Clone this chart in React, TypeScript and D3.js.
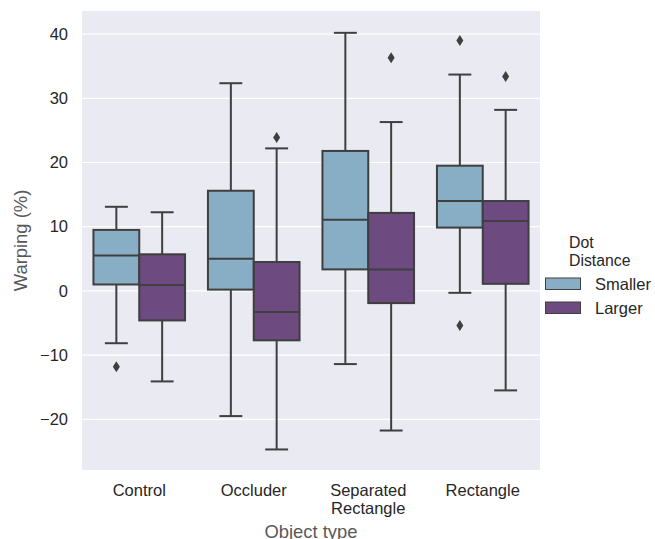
import React from "react";
import * as d3 from "d3";

const categories = ["Control", "Occluder", "Separated\nRectangle", "Rectangle"];
const hues = ["Smaller", "Larger"];
const hueColors = ["#88aec6", "#6d4a7f"];

// [whiskerLow, q1, median, q3, whiskerHigh] per category
const smallerStats = [
  [-8.15, 1.0, 5.5, 9.5, 13.1],
  [-19.5, 0.2, 5.0, 15.6, 32.35],
  [-11.4, 3.35, 11.1, 21.8, 40.2],
  [-0.3, 9.86, 14.0, 19.5, 33.7],
];
const largerStats = [
  [-14.1, -4.6, 0.93, 5.7, 12.25],
  [-24.7, -7.7, -3.3, 4.5, 22.2],
  [-21.75, -1.9, 3.35, 12.15, 26.3],
  [-15.5, 1.1, 10.9, 14.0, 28.2],
];
const smallerOutliers = [[-11.8], [], [], [39.0, -5.4]];
const largerOutliers = [[], [23.9], [36.3], [33.4]];

const yTicks = [-20, -10, 0, 10, 20, 30, 40];

const W = 655;
const H = 539;
const plot = { left: 82, right: 540, top: 11, bottom: 470 };

export default function App() {
  const x = d3.scaleBand<string>().domain(categories).range([plot.left, plot.right]).padding(0);
  const bw = x.bandwidth();
  const hueScale = d3.scaleBand<string>().domain(hues).range([-0.4 * bw, 0.4 * bw]).padding(0);
  const y = d3.scaleLinear().domain([-27.9, 43.6]).range([plot.bottom, plot.top]);
  const stats = [smallerStats, largerStats];
  const outliers = [smallerOutliers, largerOutliers];
  const edge = "#3f3f3f";
  const font = "'Liberation Sans', Arial, sans-serif";
  const boxW = hueScale.bandwidth();
  const diamond = "M0,-5.5L3.5,0L0,5.5L-3.5,0Z";

  return (
    <svg width={W} height={H} style={{ position: "absolute", left: 0, top: 0 }} fontFamily={font}>
      <rect x={0} y={0} width={W} height={H} fill="#ffffff" />
      <rect x={plot.left} y={plot.top} width={plot.right - plot.left} height={plot.bottom - plot.top} fill="#eaeaf2" />
      {yTicks.map((t) => (
        <g key={t}>
          <line x1={plot.left} x2={plot.right} y1={y(t)} y2={y(t)} stroke="#ffffff" strokeWidth={1.2} />
          <text x={68} y={y(t)} dy="0.35em" textAnchor="end" fontSize={16.5} fill="#262626">
            {t < 0 ? "\u2212" + Math.abs(t) : String(t)}
          </text>
        </g>
      ))}
      {categories.map((c, ci) =>
        hues.map((h, hi) => {
          const cx = (x(c) as number) + bw / 2 + (hueScale(h) as number) + boxW / 2;
          const [lo, q1, med, q3, hiW] = stats[hi][ci];
          const x0 = cx - boxW / 2;
          return (
            <g key={c + h}>
              <line x1={cx} x2={cx} y1={y(q3)} y2={y(hiW)} stroke={edge} strokeWidth={2} />
              <line x1={cx} x2={cx} y1={y(q1)} y2={y(lo)} stroke={edge} strokeWidth={2} />
              <line x1={cx - boxW / 4} x2={cx + boxW / 4} y1={y(hiW)} y2={y(hiW)} stroke={edge} strokeWidth={2} />
              <line x1={cx - boxW / 4} x2={cx + boxW / 4} y1={y(lo)} y2={y(lo)} stroke={edge} strokeWidth={2} />
              <rect x={x0} y={y(q3)} width={boxW} height={y(q1) - y(q3)} fill={hueColors[hi]} stroke={edge} strokeWidth={2} />
              <line x1={x0} x2={x0 + boxW} y1={y(med)} y2={y(med)} stroke={edge} strokeWidth={2} />
              {outliers[hi][ci].map((o, oi) => (
                <path key={oi} d={diamond} transform={`translate(${cx},${y(o)})`} fill={edge} />
              ))}
            </g>
          );
        })
      )}
      {categories.map((c) => {
        const lines = c.split("\n");
        const cx = (x(c) as number) + bw / 2;
        return (
          <text key={c} x={cx} y={496} textAnchor="middle" fontSize={16.5} fill="#262626">
            {lines.map((l, i) => (
              <tspan key={i} x={cx} dy={i === 0 ? 0 : 18.3}>
                {l}
              </tspan>
            ))}
          </text>
        );
      })}
      <text x={(plot.left + plot.right) / 2} y={538} textAnchor="middle" fontSize={18.4} fill="#595959">
        Object type
      </text>
      <text transform={`translate(27,${(plot.top + plot.bottom) / 2}) rotate(-90)`} textAnchor="middle" fontSize={18.4} fill="#595959">
        Warping (%)
      </text>
      <text x={569} y={248} fontSize={15.8} fill="#262626">Dot</text>
      <text x={569} y={266} fontSize={15.8} fill="#262626">Distance</text>
      {hues.map((h, i) => (
        <g key={h}>
          <rect x={545.5} y={278 + i * 24} width={35} height={11.5} fill={hueColors[i]} stroke={edge} strokeWidth={1} />
          <text x={595} y={284 + i * 24} dy="0.35em" fontSize={16.5} fill="#262626">{h}</text>
        </g>
      ))}
    </svg>
  );
}
